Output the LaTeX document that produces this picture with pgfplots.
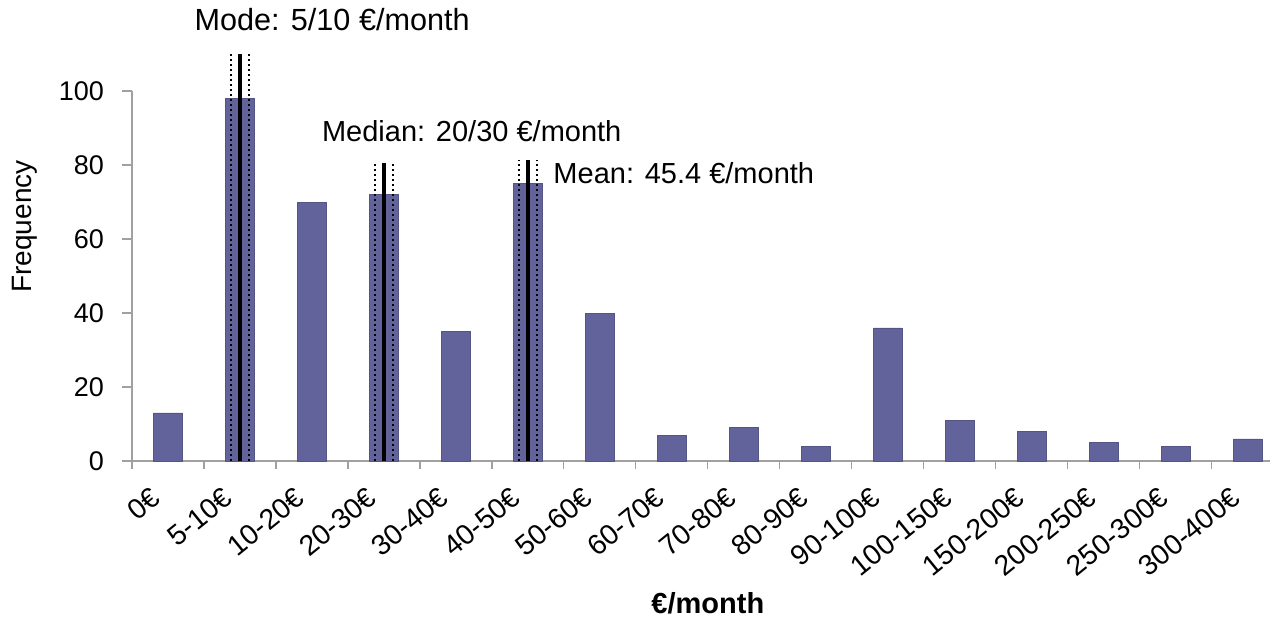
\documentclass[border=0pt]{standalone}
\usepackage{fontspec}
\setmainfont{Liberation Sans}
\usepackage{pgfplots}
\pgfplotsset{compat=1.18}
\definecolor{barcol}{RGB}{99,99,156}
\definecolor{axgray}{RGB}{160,160,160}
\begin{document}
\begin{tikzpicture}[x=1pt,y=1pt]
\useasboundingbox (-66,-78) rectangle (570,230.5);
\begin{axis}[
  at={(0,0)}, anchor=south west,
  scale only axis, width=569pt, height=185pt,
  xmin=-0.5, xmax=15.31, ymin=0, ymax=100,
  clip=false,
  axis x line*=bottom, axis y line*=left,
  axis line style={axgray, line width=0.6pt},
  ytick={0,20,...,100},
  tick align=outside,
  major tick length=5pt, minor tick length=4pt,
  tick style={axgray, line width=0.6pt},
  xtick={0,...,15},
  major x tick style={draw=none},
  minor xtick={-0.5,0.5,...,14.5},
  xticklabels={0€,5-10€,10-20€,20-30€,30-40€,40-50€,50-60€,60-70€,70-80€,80-90€,90-100€,100-150€,150-200€,200-250€,250-300€,300-400€},
  xticklabel style={xshift=-9pt, yshift=-6pt, rotate=39, anchor=north east, font=\fontsize{14.2}{16}\selectfont, inner sep=1pt},
  yticklabel style={xshift=-5.5pt, font=\fontsize{13.5}{15}\selectfont},
  /pgf/number format/assume math mode=true,
  ylabel={Frequency},
  ylabel style={at={(axis description cs:-0.094,0.634)}, anchor=center, font=\fontsize{14}{16}\selectfont},
  xlabel={€/month},
  xlabel style={at={(axis description cs:0.506,-0.384)}, anchor=center, font=\fontsize{14.5}{16}\selectfont\bfseries},
]
\addplot[ybar, bar width=0.4, fill=barcol, draw=barcol!85!black, line width=0.3pt] coordinates {
  (0,13) (1,98) (2,70) (3,72) (4,35) (5,75) (6,40) (7,7)
  (8,9) (9,4) (10,36) (11,11) (12,8) (13,5) (14,4) (15,6)
};
% Mode
\addplot[black, line width=2pt] coordinates {(1,0) (1,110)};
\addplot[black, line width=1pt, dash pattern=on 1pt off 1.5pt] coordinates {(0.875,0) (0.875,110)};
\addplot[black, line width=1pt, dash pattern=on 1pt off 1.5pt] coordinates {(1.13,0) (1.13,110)};
% Median
\addplot[black, line width=2pt] coordinates {(3,0) (3,80.6)};
\addplot[black, line width=1pt, dash pattern=on 1pt off 1.5pt] coordinates {(2.875,0) (2.875,80.6)};
\addplot[black, line width=1pt, dash pattern=on 1pt off 1.5pt] coordinates {(3.13,0) (3.13,80.6)};
% Mean
\addplot[black, line width=2pt] coordinates {(5,0) (5,81.4)};
\addplot[black, line width=1pt, dash pattern=on 1pt off 1.5pt] coordinates {(4.87,0) (4.87,81.4)};
\addplot[black, line width=1pt, dash pattern=on 1pt off 1.5pt] coordinates {(5.13,0) (5.13,81.4)};
\node[anchor=center, font=\fontsize{15.3}{17}\selectfont] at (axis cs:2.28,119.2) {Mode: 5/10 €/month};
\node[anchor=center, font=\fontsize{14.5}{17}\selectfont] at (axis cs:4.22,89.2) {Median: 20/30 €/month};
\node[anchor=west, font=\fontsize{14.5}{17}\selectfont, inner sep=0pt] at (axis cs:5.35,77.8) {Mean: 45.4 €/month};
\end{axis}
\end{tikzpicture}
\end{document}
